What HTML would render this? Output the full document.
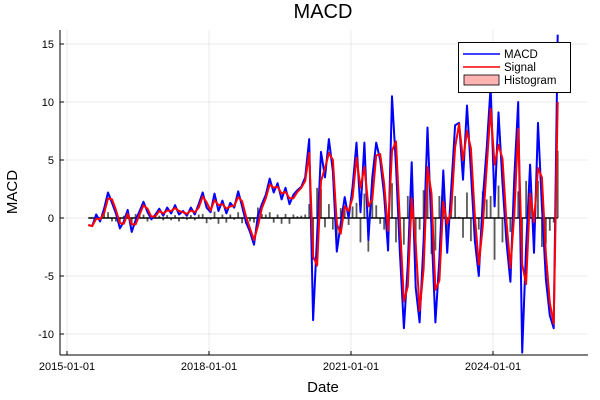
<!DOCTYPE html>
<html><head><meta charset="utf-8"><style>
body{margin:0;background:#fff}
svg{display:block;font-family:"Liberation Sans","DejaVu Sans",sans-serif}
</style></head><body>
<svg id="chart" width="600" height="400" viewBox="0 0 600 400">
<rect width="600" height="400" fill="#fff"/>
<g id="grid"></g>
<g id="hist"></g>
<g id="lines"></g>
<g id="axes"></g>
<text x="323" y="18" font-size="20" text-anchor="middle">MACD</text>
<text x="323" y="392" font-size="15" text-anchor="middle">Date</text>
<text x="17" y="192" font-size="15" text-anchor="middle" transform="rotate(-90 17 192)">MACD</text>
<g>
<rect x="458.5" y="42.5" width="112" height="50" fill="#fff" stroke="#000" stroke-width="1"/>
<line x1="463" y1="54" x2="500" y2="54" stroke="#0000ff" stroke-width="1.5"/>
<text x="504" y="58" font-size="11.5">MACD</text>
<line x1="463" y1="67" x2="500" y2="67" stroke="#ff0000" stroke-width="1.5"/>
<text x="504" y="71" font-size="11.5">Signal</text>
<rect x="464" y="75" width="35" height="10" fill="#ffb3b3" stroke="#000" stroke-width="0.8"/>
<text x="504" y="84" font-size="11.5">Histogram</text>
</g>
</svg>
<script>
const startYear = 2015.45;
const macd = [-0.6,-0.7,0.3,-0.3,0.8,2.2,1.3,0.4,-0.9,-0.3,0.7,-1.2,
-0.2,0.6,1.4,0.5,-0.1,0.3,0.8,0.2,0.9,0.4,1.1,0.3,
0.6,0.2,0.9,0.3,1.2,2.2,0.9,0.5,2.1,0.6,1.5,0.4,
1.3,0.9,2.3,1.0,-0.4,-1.2,-2.3,0.2,1.2,2.0,3.4,2.2,
3.0,1.6,2.6,1.2,2.0,2.4,2.7,3.5,6.8,-8.8,-1.5,5.7,
3.5,6.8,4.0,-2.9,-0.5,1.8,0.0,2.7,6.5,0.5,6.5,-1.9,
3.5,6.5,5.0,2.0,-2.8,10.5,4.5,-3.0,-9.5,-4.0,4.8,-6.0,
-9.0,-2.0,7.8,-1.0,-9.0,-3.5,4.1,-3.0,2.5,8.0,8.2,3.3,
9.7,4.0,-2.0,-5.0,1.5,6.0,11.3,1.0,9.1,3.0,-2.0,-5.5,
3.5,10.0,-11.6,-2.5,4.6,-3.0,8.2,1.0,-5.3,-8.4,-9.5,15.8];
const signal = [-0.6,-0.7,-0.05,-0.1,0.4,1.7,1.6,0.7,-0.45,-0.5,0.35,-0.55,
-0.55,0.3,1.1,0.8,0.1,0.15,0.6,0.4,0.65,0.6,0.85,0.6,
0.5,0.35,0.65,0.5,0.9,1.85,1.35,0.65,1.55,1.1,1.2,0.8,
1.0,1.05,1.8,1.45,0.1,-0.9,-1.9,-0.7,0.85,1.7,2.9,2.6,
2.7,2.1,2.25,1.7,1.7,2.25,2.6,3.2,5.6,-3.3,-4.1,3.2,
4.3,5.6,5.0,-0.5,-1.35,1.0,0.6,1.75,5.2,2.6,4.4,1.0,
1.6,5.4,5.5,3.0,-1.1,5.8,6.6,-0.4,-7.2,-5.9,1.7,-2.2,
-8.0,-4.4,4.4,2.1,-6.2,-5.4,1.4,-0.5,0.6,6.1,8.1,5.0,
7.5,6.0,0.1,-4.0,-0.8,4.4,9.4,4.6,6.3,5.1,-0.25,-4.3,
0.35,7.7,-4.0,-5.7,2.1,-0.35,4.3,3.5,-3.1,-7.3,-9.1,10.0];
const hist = [0,0,0.35,-0.2,0.4,0.5,-0.3,-0.3,-0.45,0.2,0.35,-0.65,
0.35,0.3,0.3,-0.3,-0.2,0.15,0.2,-0.2,0.25,-0.2,0.25,-0.3,
0.1,-0.15,0.25,-0.2,0.3,0.35,-0.45,-0.15,0.55,-0.5,0.3,-0.4,
0.3,-0.15,0.5,-0.45,-0.5,-0.3,-0.4,0.9,0.35,0.3,0.5,-0.4,
0.3,-0.5,0.35,-0.5,0.3,0.15,0.2,0.3,1.2,-3.6,2.6,2.5,
-0.8,1.2,-1.0,-2.4,0.85,0.8,-0.6,1.0,1.3,-2.1,2.1,-2.9,
1.9,1.1,-0.5,-1.0,-1.7,3.0,-2.1,-2.6,-2.3,1.9,3.1,-3.8,
-1.0,2.4,3.4,-3.1,-2.8,1.9,2.7,-2.5,1.9,1.9,0.1,-1.7,
2.2,-2.0,-2.1,-1.0,2.3,1.6,1.9,-3.6,2.8,-2.1,-1.75,-1.2,
3.1,2.3,-3.5,3.2,2.5,-2.65,3.2,-2.5,-2.2,-1.1,-0.4,5.8];
const xTickYears = [2015,2018,2021,2024];
const xTickLabels = ["2015-01-01","2018-01-01","2021-01-01","2024-01-01"];
const yTicks = [-10,-5,0,5,10,15];

const NS="http://www.w3.org/2000/svg";
const L=60,R=588,T=30,B=355;
function xs(year){return 67+(year-2015)*(142/3);}
function ys(v){return 218-v*11.6;}
function dateOf(i){return startYear+i/12;}
function mk(tag,attrs,parent){const e=document.createElementNS(NS,tag);for(const k in attrs)e.setAttribute(k,attrs[k]);parent.appendChild(e);return e;}

const grid=document.getElementById('grid'),axes=document.getElementById('axes');
yTicks.forEach(v=>{
  const g=mk('line',{x1:L,x2:R,y1:ys(v),y2:ys(v),stroke:'#000','stroke-opacity':0.08,'stroke-width':1},grid);
  
  
  const t=mk('line',{x1:L,x2:L+4,y1:ys(v),y2:ys(v),stroke:'#000','stroke-width':1},axes);
  
  
  const tx=mk('text',{x:L-6,y:ys(v)+4,'font-size':11,'text-anchor':'end'},axes);
  tx.textContent=String(v);
  
  
});
xTickYears.forEach((yr,i)=>{
  const x=xs(yr);
  const g=mk('line',{x1:x,x2:x,y1:T,y2:B,stroke:'#000','stroke-opacity':0.08,'stroke-width':1},grid);
  
  
  const t=mk('line',{x1:x,x2:x,y1:B,y2:B-4,stroke:'#000','stroke-width':1},axes);
  
  
  const tx=mk('text',{x:x,y:B+15,'font-size':11,'text-anchor':'middle'},axes);
  tx.textContent=xTickLabels[i];
  
  
});
const ax1=mk('line',{x1:L,x2:L,y1:T,y2:B,stroke:'#000','stroke-width':1},axes);


const ax2=mk('line',{x1:L,x2:R,y1:B,y2:B,stroke:'#000','stroke-width':1},axes);



const hg=document.getElementById('hist');
hist.forEach((v,i)=>{
  const x=xs(dateOf(i)),y0=ys(0),y1=ys(v);
  const r=mk('rect',{x:x-0.9,y:Math.min(y0,y1),width:1.8,height:Math.abs(y1-y0),fill:'#222','fill-opacity':0.75},hg);
  
  
});
const zl=mk('line',{x1:xs(dateOf(0)),x2:xs(dateOf(hist.length-1)),y1:ys(0),y2:ys(0),stroke:'#000','stroke-width':1.5},hg);



const lg=document.getElementById('lines');
function drawLine(arr,color,name){
  const d=arr.map((v,i)=>(i?'L':'M')+xs(dateOf(i)).toFixed(1)+','+Math.max(T,ys(v)).toFixed(1)).join('');
  const p=mk('path',{d:d,fill:'none',stroke:color,'stroke-width':2,'stroke-linejoin':'round'},lg);
  
  
}
drawLine(macd,'#0000ff','macd-line');
drawLine(signal,'#ff0000','signal-line');
</script>
</body></html>
